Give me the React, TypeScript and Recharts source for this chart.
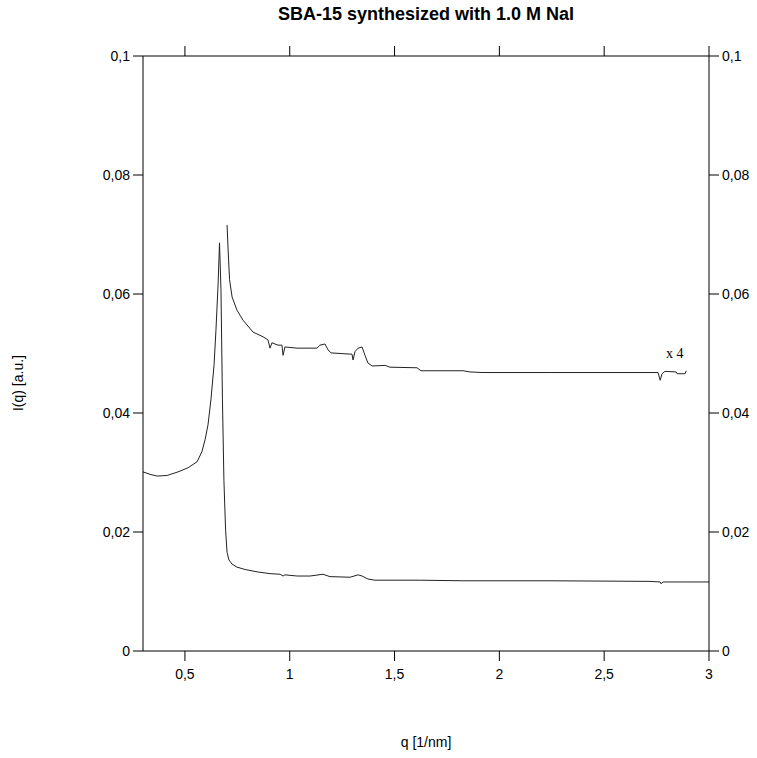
import React from 'react';
import { LineChart, Line, XAxis, YAxis } from 'recharts';

// lower curve: measured SAXS profile
const qLow = [
  0.3, 0.333, 0.367, 0.415, 0.467, 0.515, 0.558, 0.581, 0.596, 0.61, 0.624, 0.639, 0.648, 0.658, 0.665,
  0.672, 0.679, 0.686, 0.694, 0.701, 0.71, 0.725, 0.748, 0.787, 0.844, 0.906, 0.954, 0.968, 0.977, 1.035,
  1.097, 1.159, 1.192, 1.288, 1.326, 1.345, 1.373, 1.407, 1.622, 1.827, 2.242, 2.719, 2.767, 2.771, 2.781,
  2.862, 3.0,
];
const iLow = [
  0.0301, 0.0297, 0.0294, 0.0295, 0.0301, 0.0308, 0.0318, 0.0335, 0.0355, 0.038, 0.0422, 0.0481, 0.0539, 0.0615, 0.0686,
  0.0607, 0.0422, 0.0287, 0.0203, 0.0166, 0.0153, 0.0146, 0.0141, 0.0137, 0.0133, 0.013, 0.0129, 0.0126, 0.0128, 0.0126,
  0.0126, 0.0129, 0.0125, 0.0124, 0.0128, 0.0126, 0.0121, 0.0119, 0.0119, 0.0118, 0.0118, 0.0117, 0.0116, 0.0113, 0.0116,
  0.0116, 0.0116,
];

// upper curve: same profile scaled x4 (tail only)
const qHigh = [
  0.701, 0.706, 0.713, 0.725, 0.748, 0.777, 0.825, 0.873, 0.896, 0.906, 0.915, 0.944, 0.963, 0.968, 0.977,
  1.035, 1.111, 1.13, 1.144, 1.168, 1.183, 1.197, 1.288, 1.297, 1.302, 1.311, 1.326, 1.345, 1.359, 1.373,
  1.393, 1.455, 1.478, 1.607, 1.626, 1.827, 1.86, 1.922, 2.242, 2.757, 2.767, 2.776, 2.79, 2.843, 2.848,
  2.886, 2.891,
];
const iHigh = [
  0.0716, 0.0674, 0.0624, 0.0595, 0.0573, 0.0556, 0.0536, 0.0528, 0.0523, 0.0509, 0.0518, 0.0514, 0.0514, 0.0497, 0.0511,
  0.0509, 0.0509, 0.0509, 0.0514, 0.0516, 0.0506, 0.0501, 0.0499, 0.0499, 0.0489, 0.0503, 0.0509, 0.0511, 0.0497, 0.0484,
  0.0479, 0.048, 0.0477, 0.0476, 0.0471, 0.0471, 0.0469, 0.0468, 0.0468, 0.0468, 0.0455, 0.0466, 0.047, 0.0469, 0.0466,
  0.0466, 0.0471,
];

const xTicks = [0.5, 1, 1.5, 2, 2.5, 3];
const yTicks = [0, 0.02, 0.04, 0.06, 0.08, 0.1];

const lowData = qLow.map((q, i) => ({ q, v: iLow[i] }));
const highData = qHigh.map((q, i) => ({ q, v: iHigh[i] }));

const comma = (v: number) => String(v).replace('.', ',');
const font = '"Liberation Sans", Arial, sans-serif';
const tickStyle = { fill: '#000', fontSize: 14, fontFamily: font };

export default function App() {
  return (
    <div style={{ position: 'absolute', left: 0, top: 0, width: 757, height: 758, background: '#fff' }}>
      <div style={{
        position: 'absolute', left: 0, width: 852, top: 4, textAlign: 'center',
        fontFamily: font, fontWeight: 700, fontSize: 18,
      }}>SBA-15 synthesized with 1.0 M NaI</div>
      <LineChart width={757} height={758} margin={{ top: 46, right: 8, bottom: 77, left: 93 }}>
        <XAxis xAxisId="bottom" type="number" dataKey="q" domain={[0.3, 3]} ticks={xTicks} tickFormatter={comma}
          allowDataOverflow tickSize={10} tickMargin={8} height={30} stroke="#000" tick={tickStyle} />
        <XAxis xAxisId="top" orientation="top" type="number" dataKey="q" domain={[0.3, 3]} ticks={xTicks}
          tickFormatter={() => ''} allowDataOverflow tickSize={10} height={10} stroke="#000" tick={tickStyle} />
        <YAxis yAxisId="left" type="number" domain={[0, 0.1]} ticks={yTicks} tickFormatter={comma}
          allowDataOverflow tickSize={10} tickMargin={3} width={50} stroke="#000" tick={tickStyle} />
        <YAxis yAxisId="right" orientation="right" type="number" domain={[0, 0.1]} ticks={yTicks} tickFormatter={comma}
          allowDataOverflow tickSize={10} tickMargin={3} width={40} stroke="#000" tick={tickStyle} />
        <Line xAxisId="bottom" yAxisId="left" data={lowData} dataKey="v" stroke="#222" strokeWidth={1}
          dot={false} isAnimationActive={false} />
        <Line xAxisId="bottom" yAxisId="left" data={highData} dataKey="v" stroke="#222" strokeWidth={1}
          dot={false} isAnimationActive={false} />
      </LineChart>
      <div style={{
        position: 'absolute', left: 666, top: 346, fontFamily: '"Liberation Serif", "Times New Roman", serif', fontSize: 14,
      }}>x 4</div>
      <div style={{
        position: 'absolute', left: 18, top: 383, transform: 'translate(-50%, -50%) rotate(-90deg)',
        whiteSpace: 'nowrap', fontFamily: font, fontSize: 14,
      }}>I(q) [a.u.]</div>
      <div style={{
        position: 'absolute', left: 0, width: 852, top: 734, textAlign: 'center', fontFamily: font, fontSize: 14,
      }}>q [1/nm]</div>
    </div>
  );
}
